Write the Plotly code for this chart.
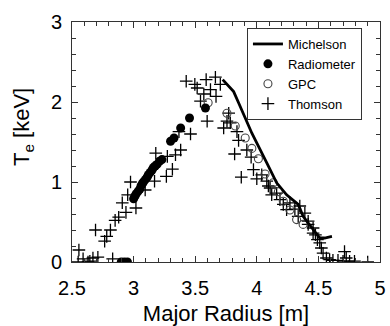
import plotly.graph_objects as go

# Michelson ECE profile (line)
mich_r = [3.723, 3.812, 3.852, 3.960, 4.081, 4.161, 4.242, 4.336, 4.376, 4.470, 4.511, 4.551, 4.610]
mich_te = [2.28, 2.13, 1.99, 1.61, 1.24, 0.99, 0.84, 0.72, 0.57, 0.38, 0.30, 0.30, 0.32]

# Radiometer (filled circles)
rad_r = [2.90, 2.925, 2.95, 3.00, 3.01, 3.02, 3.035, 3.05, 3.06, 3.07, 3.08, 3.095, 3.11, 3.12,
         3.135, 3.15, 3.16, 3.175, 3.19, 3.21, 3.23, 3.30, 3.328, 3.382, 3.454, 3.583]
rad_te = [0.0, 0.0, 0.0, 0.79, 0.82, 0.85, 0.88, 0.91, 0.95, 0.98, 1.00, 1.03, 1.06, 1.09,
          1.12, 1.15, 1.18, 1.20, 1.22, 1.26, 1.28, 1.51, 1.55, 1.675, 1.80, 1.925]

# GPC (open circles)
gpc_r = [3.605, 3.758, 3.825, 3.906, 3.960, 4.013, 4.067, 4.134, 4.175, 4.215, 4.269, 4.323, 4.376]
gpc_te = [1.99, 1.86, 1.70, 1.55, 1.42, 1.29, 1.10, 0.99, 0.88, 0.76, 0.65, 0.53, 0.47]

# Thomson scattering (crosses)
thom_r = [2.556, 2.55, 2.59, 2.63, 2.645, 2.67, 2.71, 2.83,
          2.691, 2.765, 2.782, 2.812, 2.85, 2.879, 2.938, 2.908, 2.952, 2.975, 3.019, 3.094,
          3.17, 3.266, 3.18, 3.274, 3.34, 3.382, 3.315, 3.368, 3.462,
          3.427, 3.497, 3.516, 3.57, 3.589, 3.624, 3.664, 3.543, 3.597, 3.669, 3.704,
          3.772, 3.758, 3.731, 3.785, 3.839, 3.852, 3.919, 3.82, 3.954, 3.973, 3.874, 4.0,
          4.04, 4.081, 4.094, 4.108, 4.121, 4.161, 4.188, 4.215, 4.242, 4.269, 4.309, 4.349,
          4.39, 4.336, 4.417, 4.417, 4.457, 4.457, 4.476, 4.492, 4.511, 4.524, 4.538, 4.565,
          4.591, 4.618, 4.659, 4.70, 4.712, 4.726, 4.753, 4.793, 4.90]
thom_te = [0.15, 0.0, 0.04, 0.0, 0.01, 0.05, 0.06, 0.04,
           0.40, 0.26, 0.32, 0.40, 0.52, 0.56, 0.62, 0.74, 0.84, 1.0, 0.675, 0.90,
           1.01, 1.07, 1.36, 1.32, 1.34, 1.40, 1.16, 1.63, 1.60,
           2.26, 2.22, 2.175, 2.10, 2.28, 2.155, 2.31, 2.01, 1.76, 2.07, 2.22,
           1.86, 1.76, 1.675, 1.74, 1.63, 1.52, 1.40, 1.35, 1.31, 1.155, 1.06, 1.04,
           1.09, 1.01, 0.95, 0.925, 0.84, 0.86, 0.78, 0.72, 0.655, 0.74, 0.66, 0.70,
           0.61, 0.57, 0.51, 0.47, 0.425, 0.36, 0.34, 0.28, 0.24, 0.175, 0.11, 0.05,
           0.03, 0.02, 0.02, 0.01, 0.13, 0.05, 0.01, 0.01, 0.0]

x_ticks = [2.5, 3, 3.5, 4, 4.5, 5]
x_labels = ["2.5", "3", "3.5", "4", "4.5", "5"]
y_ticks = [0, 1, 2, 3]
y_labels = ["0", "1", "2", "3"]

FONT = "Liberation Sans, Arial, Helvetica, sans-serif"

fig = go.Figure()
fig.add_trace(go.Scatter(x=thom_r, y=thom_te, mode="markers", name="Thomson",
                         marker=dict(symbol="cross-thin-open", size=9, color="black",
                                     line=dict(width=1.3, color="black"))))
fig.add_trace(go.Scatter(x=gpc_r, y=gpc_te, mode="markers", name="GPC",
                         marker=dict(symbol="circle-open", size=8, color="#444444",
                                     line=dict(width=1.1, color="#444444"))))
fig.add_trace(go.Scatter(x=rad_r, y=rad_te, mode="markers", name="Radiometer",
                         marker=dict(symbol="circle", size=9, color="black")))
fig.add_trace(go.Scatter(x=mich_r, y=mich_te, mode="lines", name="Michelson",
                         line=dict(color="black", width=2.8)))

axis_common = dict(showgrid=False, zeroline=False, showline=True, linecolor="#333333",
                   linewidth=1, mirror="allticks", ticks="inside", tickcolor="#333333",
                   ticklen=6, tickwidth=1, automargin=False,
                   tickfont=dict(family=FONT, size=20, color="black"))

fig.update_xaxes(range=[2.5, 5], tickvals=x_ticks, ticktext=x_labels,
                 minor=dict(dtick=0.1, ticks="inside", ticklen=4, tickcolor="#333333"),
                 title=dict(text="Major Radius [m]", font=dict(family=FONT, size=22, color="black"),
                            standoff=18),
                 ticklabelstandoff=8,
                 **axis_common)
fig.update_yaxes(range=[0, 3], tickvals=y_ticks, ticktext=y_labels,
                 minor=dict(dtick=0.2, ticks="inside", ticklen=4, tickcolor="#333333"),
                 ticklabelstandoff=5,
                 **axis_common)

fig.add_annotation(text="T<sub>e</sub> [keV]", textangle=-90, xref="paper", yref="paper",
                   x=-0.159, y=0.5625, xanchor="center", yanchor="middle", showarrow=False,
                   font=dict(family=FONT, size=22, color="black"))

fig.update_layout(
    width=390, height=326,
    margin=dict(l=72, r=10, t=22, b=64),
    plot_bgcolor="white", paper_bgcolor="white",
    showlegend=True,
    legend=dict(x=0.568, y=0.975, xanchor="left", yanchor="top",
                bgcolor="white", bordercolor="#333333", borderwidth=1,
                font=dict(family=FONT, size=13, color="black"),
                traceorder="reversed", tracegroupgap=0, itemwidth=30),
)

fig.write_html("out.html")
